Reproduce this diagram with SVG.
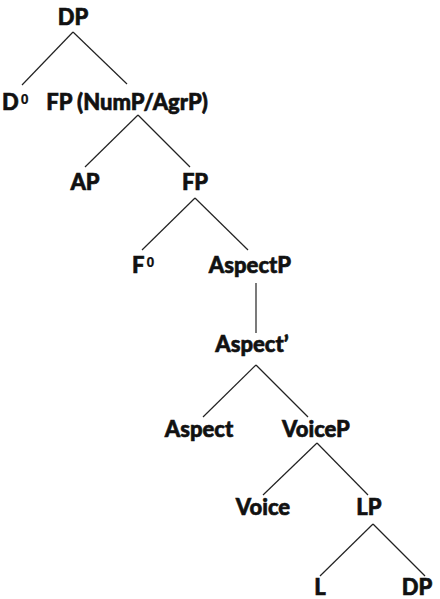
<svg xmlns="http://www.w3.org/2000/svg" width="440" height="599" viewBox="0 0 440 599">
<style>
.l{font-family:Lato,"Noto Sans","Liberation Sans",sans-serif;font-weight:900;font-size:22px;fill:#111;stroke:#111;stroke-width:0.6;text-anchor:middle}
.sup{font-family:"Liberation Sans",Arial,sans-serif;font-weight:700;font-size:14px;stroke-width:0.2}
.e{stroke:#222;stroke-width:1.2;fill:none}
</style>
<rect width="440" height="599" fill="#fff"/>
<g id="edges">
<line class="e" x1="73" y1="32" x2="22" y2="85"/>
<line class="e" x1="73" y1="32" x2="127" y2="84"/>
<line class="e" x1="138" y1="115" x2="85" y2="167"/>
<line class="e" x1="138" y1="115" x2="190" y2="167"/>
<line class="e" x1="195" y1="198" x2="142" y2="250"/>
<line class="e" x1="195" y1="198" x2="248" y2="250"/>
<line class="e" x1="256" y1="283" x2="256" y2="333"/>
<line class="e" x1="256" y1="365" x2="203" y2="417"/>
<line class="e" x1="256" y1="365" x2="308" y2="417"/>
<line class="e" x1="317" y1="443" x2="263" y2="495"/>
<line class="e" x1="317" y1="443" x2="368" y2="495"/>
<line class="e" x1="373" y1="524" x2="320" y2="576"/>
<line class="e" x1="373" y1="524" x2="425" y2="576"/>
</g>
<g id="n-dp"><text class="l" x="73" y="25">DP</text></g>
<g id="n-d0"><text class="l" x="2" y="110" style="text-anchor:start">D<tspan class="sup" dx="2" dy="-6">0</tspan></text></g>
<g id="n-fp1"><text class="l" x="127" y="110">FP (NumP/AgrP)</text></g>
<g id="n-ap"><text class="l" x="85" y="190">AP</text></g>
<g id="n-fp2"><text class="l" x="195" y="190">FP</text></g>
<g id="n-f0"><text class="l" x="132" y="273" style="text-anchor:start">F<tspan class="sup" dx="2" dy="-6">0</tspan></text></g>
<g id="n-aspectp"><text class="l" x="250" y="273">AspectP</text></g>
<g id="n-aspectbar"><text class="l" x="252" y="352">Aspect’</text></g>
<g id="n-aspect"><text class="l" x="199" y="437">Aspect</text></g>
<g id="n-voicep"><text class="l" x="316" y="437">VoiceP</text></g>
<g id="n-voice"><text class="l" x="263" y="515">Voice</text></g>
<g id="n-lp"><text class="l" x="369" y="515">LP</text></g>
<g id="n-l"><text class="l" x="320" y="595">L</text></g>
<g id="n-dp2"><text class="l" x="417" y="595">DP</text></g>
</svg>
